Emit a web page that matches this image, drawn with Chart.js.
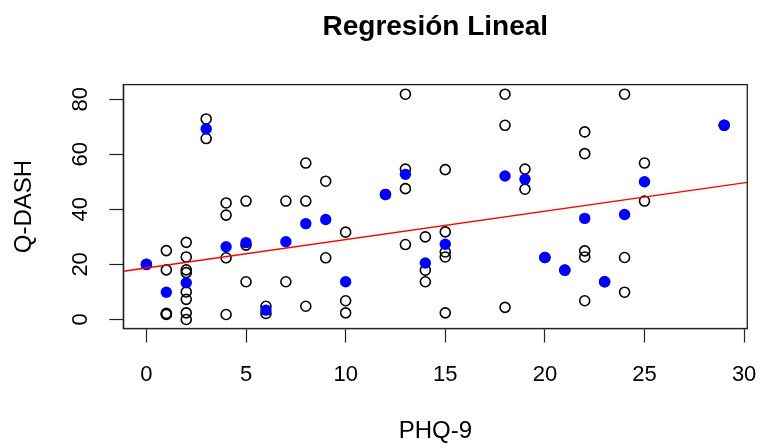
<!DOCTYPE html>
<html lang="es">
<head>
<meta charset="utf-8">
<title>Regresión Lineal</title>
<script src="https://cdn.jsdelivr.net/npm/chart.js@4/dist/chart.umd.min.js"></script>
<style>
  html, body { margin: 0; padding: 0; background: #fff; }
  #wrap { width: 761px; height: 444px; }
</style>
</head>
<body>
<div id="wrap"><canvas id="regChart" width="761" height="444"></canvas></div>
<script>
// datos
const phqObs = [0, 1, 1, 1, 1, 1, 2, 2, 2, 2, 2, 2, 2, 2, 3, 3, 4, 4, 4, 4, 5, 5, 5, 6, 6, 7, 7,
  8, 8, 8, 9, 9, 10, 10, 10, 12, 13, 13, 13, 13, 14, 14, 14, 15, 15, 15, 15, 15,
  18, 18, 18, 19, 19, 20, 21, 22, 22, 22, 22, 22, 23, 24, 24, 24, 25, 25, 29];
const qdashObs = [20, 25, 18, 2.2, 2, 1.8, 28, 22.7, 18, 17, 10, 7.3, 2.4, 0, 72.8, 65.7,
  42.3, 37.9, 22.4, 1.8, 43, 27, 13.7, 4.8, 2.2, 43, 13.7, 56.8, 43, 4.8, 50.2, 22.4,
  31.7, 6.8, 2.4, 45.4, 81.8, 54.6, 47.5, 27.2, 30, 17.9, 13.7, 54.4, 31.8, 24.5, 22.7, 2.4,
  81.8, 70.5, 4.4, 54.6, 47.3, 22.5, 17.9, 68.1, 60.2, 24.9, 22.7, 6.8, 13.7, 81.8, 22.5, 9.9,
  56.8, 43, 70.5];

// medias por grupo (puntos azules)
const phqMean = [0, 1, 2, 3, 4, 5, 6, 7, 8, 9, 10, 12, 13, 14, 15, 18, 19, 20, 21, 22, 23, 24, 25, 29];
const qdashMean = [20, 9.9, 13.3, 69.2, 26.4, 27.9, 3.4, 28.2, 34.8, 36.3, 13.7, 45.4, 52.7, 20.5,
  27.3, 52.1, 50.9, 22.5, 17.9, 36.7, 13.7, 38.1, 50.0, 70.5];

// recta de regresion (intercepto y pendiente)
const intercept = 18.7;
const slope = 1.03;

const xTicks = [0, 5, 10, 15, 20, 25, 30];
const yTicks = [0, 20, 40, 60, 80];

// rangos del eje como en R (4% extra)
const X_MIN = -1.16, X_MAX = 30.16;
const Y_MIN = -3.28, Y_MAX = 85.28;

const FONT = 'Liberation Sans, Arial, Helvetica, sans-serif';

const boxPlugin = {
  id: 'box',
  afterDraw(chart) {
    const a = chart.chartArea;
    const ctx = chart.ctx;
    ctx.save();
    ctx.strokeStyle = '#222';
    ctx.lineWidth = 1.3;
    ctx.strokeRect(a.left, a.top, a.right - a.left, a.bottom - a.top);
    ctx.restore();
  }
};

const ctx = document.getElementById('regChart').getContext('2d');
new Chart(ctx, {
  type: 'scatter',
  data: {
    datasets: [
      {
        label: 'Recta',
        type: 'line',
        data: [X_MIN, X_MAX].map(x => ({ x: x, y: intercept + slope * x })),
        borderColor: '#ff0000',
        borderWidth: 1.4,
        pointRadius: 0,
        fill: false,
        order: 0
      },
      {
        label: 'Media',
        data: phqMean.map((x, i) => ({ x: x, y: qdashMean[i] })),
        backgroundColor: '#0000ff',
        borderWidth: 0,
        pointRadius: 5.7,
        order: 1
      },
      {
        label: 'Observado',
        data: phqObs.map((x, i) => ({ x: x, y: qdashObs[i] })),
        backgroundColor: 'rgba(0,0,0,0)',
        borderColor: '#000',
        borderWidth: 1.6,
        pointRadius: 5,
        order: 2
      }
    ]
  },
  options: {
    responsive: false,
    animation: false,
    layout: { padding: { left: 0, right: 13.7, top: 0, bottom: 0 } },
    plugins: {
      legend: { display: false },
      tooltip: { enabled: false },
      title: {
        display: true,
        fullSize: false,
        text: 'Regresión Lineal',
        color: '#000',
        font: { family: FONT, size: 28, weight: 'bold', lineHeight: 1.2 },
        padding: { top: 10, bottom: 41 }
      }
    },
    scales: {
      x: {
        type: 'linear',
        min: X_MIN,
        max: X_MAX,
        afterBuildTicks: s => { s.ticks = xTicks.map(v => ({ value: v })); },
        afterFit: s => { s.height = 115.5; s.paddingLeft = 0; s.paddingRight = 0; },
        ticks: {
          color: '#000',
          font: { family: FONT, size: 22 },
          padding: 19,
          autoSkip: false,
          maxRotation: 0
        },
        grid: { drawOnChartArea: false, drawTicks: true, tickLength: 14, color: '#222', tickWidth: 1.2 },
        border: { display: true, color: '#222', width: 1.3 },
        title: {
          display: true,
          text: 'PHQ-9',
          color: '#000',
          font: { family: FONT, size: 24, lineHeight: 1 },
          padding: { top: 0, bottom: 1 }
        }
      },
      y: {
        type: 'linear',
        min: Y_MIN,
        max: Y_MAX,
        afterBuildTicks: s => { s.ticks = yTicks.map(v => ({ value: v })); },
        afterFit: s => { s.width = 123.3; s.paddingTop = 0; s.paddingBottom = 0; },
        ticks: {
          color: '#000',
          font: { family: FONT, size: 22 },
          padding: 16,
          autoSkip: false,
          minRotation: 90,
          maxRotation: 90,
          crossAlign: 'center'
        },
        grid: { drawOnChartArea: false, drawTicks: true, tickLength: 14, color: '#222', tickWidth: 1.2 },
        border: { display: true, color: '#222', width: 1.3 },
        title: {
          display: true,
          text: 'Q-DASH',
          color: '#000',
          font: { family: FONT, size: 24, lineHeight: 1 },
          padding: { top: 12, bottom: 0 }
        }
      }
    }
  },
  plugins: [boxPlugin]
});
</script>
</body>
</html>
